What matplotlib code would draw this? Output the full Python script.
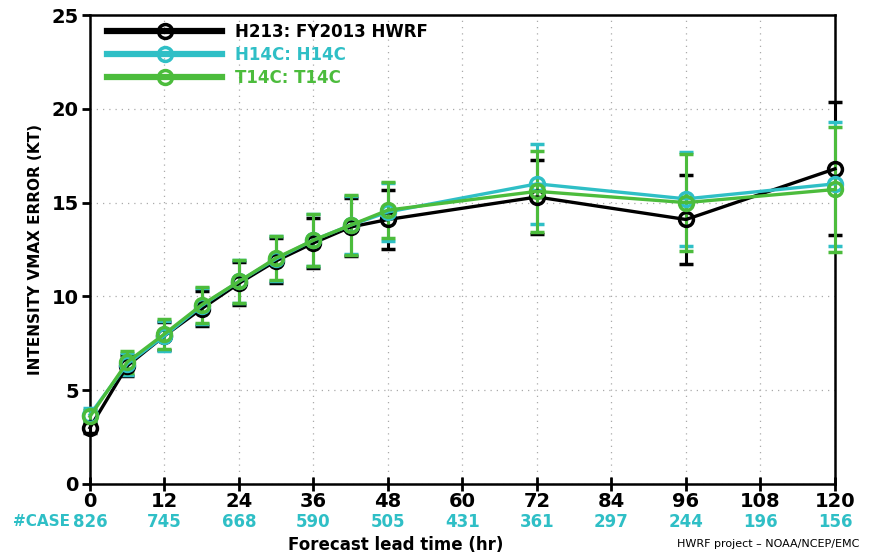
import matplotlib
matplotlib.use('Agg')
import matplotlib.pyplot as plt
from matplotlib.lines import Line2D
from matplotlib.transforms import blended_transform_factory

# forecast lead times (hr) and number of cases
lead = [0, 6, 12, 18, 24, 30, 36, 42, 48, 72, 96, 120]
tick_hours = [0, 12, 24, 36, 48, 60, 72, 84, 96, 108, 120]
cases = [826, 745, 668, 590, 505, 431, 361, 297, 244, 196, 156]

# intensity vmax error (kt) and error bar half widths
h213 = [3.0, 6.3, 7.9, 9.35, 10.7, 11.9, 12.85, 13.7, 14.1, 15.3, 14.1, 16.8]
h213_err = [0.3, 0.55, 0.75, 0.95, 1.15, 1.2, 1.35, 1.55, 1.55, 1.95, 2.35, 3.55]
h14c = [3.7, 6.4, 7.9, 9.5, 10.8, 12.0, 13.0, 13.8, 14.5, 16.0, 15.2, 16.0]
h14c_err = [0.35, 0.6, 0.8, 0.95, 1.15, 1.2, 1.4, 1.55, 1.55, 2.15, 2.5, 3.3]
t14c = [3.6, 6.5, 8.0, 9.55, 10.8, 12.05, 13.0, 13.8, 14.6, 15.6, 15.0, 15.7]
t14c_err = [0.35, 0.6, 0.8, 0.95, 1.15, 1.15, 1.4, 1.6, 1.5, 2.15, 2.6, 3.35]

labels = ['H213: FY2013 HWRF', 'H14C: H14C', 'T14C: T14C']
colors = ['black', '#2fbfc6', '#4cbc3c']
cyan = '#2fbfc6'

fig = plt.figure(figsize=(8.77, 5.56), dpi=100)
ax = fig.add_axes([0.1026, 0.1295, 0.8495, 0.8435])

series = [(h213, h213_err), (h14c, h14c_err), (t14c, t14c_err)]
for (vals, err), c in zip(series, colors):
    eb = ax.errorbar(lead, vals, yerr=err, color=c, lw=2.4, marker='o', ms=10,
                     mfc='none', mec=c, mew=2.5, capsize=5, capthick=3,
                     elinewidth=2.2, zorder=3)
    for art in list(eb.lines[1]) + list(eb.lines[2]):
        art.set_clip_on(False)
    eb.lines[0].set_clip_on(False)

ax.set_xlim(0, 120)
ax.set_ylim(0, 25)
ax.set_xticks(tick_hours)
ax.set_yticks([0, 5, 10, 15, 20, 25])
ax.grid(True, ls=(0, (1, 4)), color='#aaaaaa', lw=0.9)
for s in ax.spines.values():
    s.set_linewidth(1.8)
ax.tick_params(axis='y', direction='out', length=6, width=2, labelsize=14, pad=2)
ax.tick_params(axis='x', direction='inout', length=10, width=2, labelsize=14, pad=1)
for t in ax.get_yticklabels() + ax.get_xticklabels():
    t.set_fontweight('bold')

ax.set_ylabel('INTENSITY VMAX ERROR (KT)', fontsize=11, fontweight='bold', labelpad=6)

# case counts under the axis
tr = blended_transform_factory(ax.transData, ax.transAxes)
for h, n in zip(tick_hours, cases):
    ax.text(h, -0.081, str(n), transform=tr, ha='center', va='center',
            color=cyan, fontsize=12, fontweight='bold')
ax.text(-3.2, -0.081, '#CASE', transform=tr, ha='right', va='center',
        color=cyan, fontsize=11, fontweight='bold')

ax.text(0.41, -0.13, 'Forecast lead time (hr)', transform=ax.transAxes, ha='center',
        va='center', fontsize=12, fontweight='bold')
fig.text(0.98, 0.013, 'HWRF project \u2013 NOAA/NCEP/EMC', ha='right', va='bottom',
         fontsize=8)

handles = [Line2D([], [], color=c, lw=4.5, marker='o', ms=10, mfc='none', mec=c, mew=2.5)
           for c in colors]
leg = ax.legend(handles=handles, labels=labels, loc='upper left', frameon=False,
                fontsize=12, handlelength=6.9, labelspacing=0.3, borderaxespad=0.05,
                handletextpad=0.8, bbox_to_anchor=(0.013, 1.0))
for txt, c in zip(leg.get_texts(), colors):
    txt.set_color(c)
    txt.set_fontweight('bold')

fig.savefig('out.png', dpi=100)
